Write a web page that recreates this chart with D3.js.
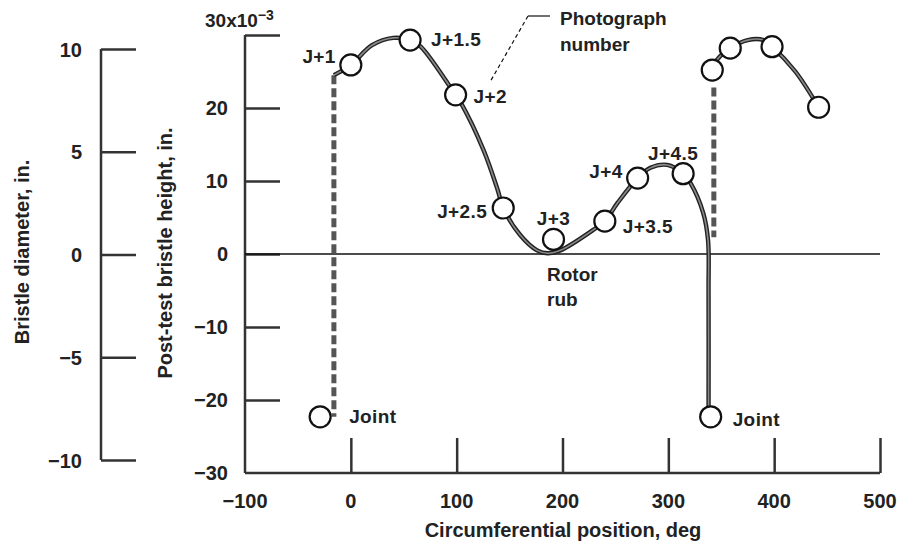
<!DOCTYPE html>
<html><head><meta charset="utf-8">
<script src="https://cdn.jsdelivr.net/npm/d3@7"></script>
<style>
body{margin:0;background:#fff;}
text{font-family:"Liberation Sans",Arial,sans-serif;fill:#222;font-weight:bold;}
</style></head>
<body><svg id="c" width="902" height="551"></svg>
<script>
// ---- data ----
const xTicks = [0, 100, 200, 300, 400, 500];
const xTickLabels = ["\u2212100", "0", "100", "200", "300", "400", "500"];
const xLabelVals = [-100, 0, 100, 200, 300, 400, 500];
const yTicks = [-30, -20, -10, 0, 10, 20, 30];
const yTickLabels = ["\u221230", "\u221220", "\u221210", "0", "10", "20", ""];
const diaTicks = [-10, -5, 0, 5, 10];
const diaTickLabels = ["\u221210", "\u22125", "0", "5", "10"];

// photographed stations: circumferential position (deg), post-test height (x10^-3 in.)
const stationX = [-29, 0, 56, 99, 144, 191.5, 240, 271, 314, 340, 341.5, 358.5, 398, 442];
const stationY = [-22.3, 25.9, 29.3, 21.8, 6.3, 2.0, 4.5, 10.4, 11.0, -22.3, 25.2, 28.2, 28.4, 20.1];
const stationLabels = ["Joint", "J+1", "J+1.5", "J+2", "J+2.5", "J+3", "J+3.5", "J+4", "J+4.5", "Joint", "", "", "", ""];

// traced height profile, first segment (deg, x10^-3 in.)
const profileAX = [-16, 0, 20, 40, 56, 66, 91.5, 99, 104, 125.5, 138.7, 144, 160, 176, 186, 198, 229, 240, 252, 271, 283, 299, 314, 321, 333, 337.5, 338, 338];
const profileAY = [24.5, 25.9, 28.6, 29.6, 29.3, 28.4, 23.4, 21.8, 20.7, 14.2, 8.8, 6.3, 2.6, 0.5, 0.1, 0.5, 3.3, 4.5, 7.0, 10.4, 11.8, 12.2, 11.0, 9.7, 5.6, 1.9, -5, -21];
// second segment after joint
const profileBX = [341.5, 346, 358.5, 375, 390, 398, 420, 442];
const profileBY = [25.2, 26.6, 28.2, 29.3, 29.3, 28.4, 25.0, 20.1];
// joint markers (dashed): position, top, bottom
const jointX = [-16, 343];
const jointTop = [24.5, 22.8];
const jointBottom = [-22.3, 2.3];

// ---- drawing ----
const svg = d3.select("#c");
const x = d3.scaleLinear().domain([-100, 500]).range([245, 880]);
const y = d3.scaleLinear().domain([-30, 30]).range([473, 35]);
const yd = d3.scaleLinear().domain([-10, 10]).range([460, 49]);
const axisCol = "#333";

// left (bristle diameter) axis
const gL = svg.append("g").attr("transform", "translate(101,0)");
gL.call(d3.axisRight(yd).tickValues(diaTicks).tickSize(35).tickFormat(""));
gL.selectAll("path.domain").attr("d", `M0,${yd(-10)}V${yd(10)}`);
gL.selectAll("line,path").attr("stroke", axisCol).attr("stroke-width", 2.5);
gL.selectAll(".tick").append("text").attr("x", -19).attr("dy", "0.35em")
  .attr("text-anchor", "end").style("font-size", "20px")
  .text(d => diaTickLabels[diaTicks.indexOf(d)]);

// main y axis
const gY = svg.append("g").attr("transform", "translate(245,0)");
gY.call(d3.axisRight(y).tickValues(yTicks.slice(1)).tickSize(35).tickFormat(""));
gY.selectAll("path.domain").attr("d", `M0,${y(-30)}V${y(30)}`);
gY.selectAll("line,path").attr("stroke", axisCol).attr("stroke-width", 2.5);
svg.append("g").selectAll("text").data(yTicks.filter(v => v < 30)).join("text")
  .attr("x", 228).attr("y", d => y(d)).attr("dy", "0.35em").attr("text-anchor", "end")
  .style("font-size", "20px").text(d => yTickLabels[yTicks.indexOf(d)]);
const t30 = svg.append("text").attr("x", 205).attr("y", 27).style("font-size", "19px");
t30.append("tspan").text("30x10");
t30.append("tspan").attr("dy", -7).style("font-size", "14px").text("\u22123");

// x axis
const gX = svg.append("g").attr("transform", `translate(0,${y(-30)})`);
gX.call(d3.axisTop(x).tickValues(xTicks).tickSize(35).tickFormat(""));
gX.selectAll("path.domain").attr("d", `M${x(-100)},0H${x(500)}`);
gX.selectAll("line,path").attr("stroke", axisCol).attr("stroke-width", 2.5);
svg.append("g").selectAll("text").data(xLabelVals).join("text")
  .attr("x", d => x(d)).attr("y", 508).attr("text-anchor", "middle")
  .style("font-size", "20px").text((d, i) => xTickLabels[i]);

// zero line
svg.append("line").attr("x1", x(-100)).attr("x2", x(500)).attr("y1", y(0)).attr("y2", y(0))
  .attr("stroke", "#111").attr("stroke-width", 1.5);

// axis titles
svg.append("text").attr("transform", `translate(29,252) rotate(-90)`).attr("text-anchor", "middle")
  .style("font-size", "20px").text("Bristle diameter, in.");
svg.append("text").attr("transform", `translate(172,253) rotate(-90)`).attr("text-anchor", "middle")
  .style("font-size", "20px").text("Post-test bristle height, in.");
svg.append("text").attr("x", 563).attr("y", 537).attr("text-anchor", "middle")
  .style("font-size", "20px").text("Circumferential position, deg");

// joints (dashed)
jointX.forEach((jx, i) => {
  svg.append("line").attr("x1", x(jx)).attr("x2", x(jx))
    .attr("y1", y(jointTop[i])).attr("y2", y(jointBottom[i]))
    .attr("stroke", "#555").attr("stroke-width", 5).attr("stroke-dasharray", "9,4");
});

// profile curves
const line = d3.line().x(d => x(d[0])).y(d => y(d[1])).curve(d3.curveCatmullRom.alpha(0.5));
[[profileAX, profileAY], [profileBX, profileBY]].forEach(([px, py]) => {
  const pts = px.map((v, i) => [v, py[i]]);
  svg.append("path").attr("d", line(pts)).attr("fill", "none").attr("stroke", "#222").attr("stroke-width", 4.4);
  svg.append("path").attr("d", line(pts)).attr("fill", "none").attr("stroke", "#8a8a8a").attr("stroke-width", 1.6);
});

// station circles
svg.append("g").selectAll("circle").data(stationX).join("circle")
  .attr("cx", d => x(d)).attr("cy", (d, i) => y(stationY[i])).attr("r", 10.5)
  .attr("fill", "#fff").attr("stroke", "#111").attr("stroke-width", 2.2);

// station labels
const labelPos = [
  {i: 0, dx: 29, dy: 6, a: "start"},
  {i: 1, dx: -15, dy: -2, a: "end"},
  {i: 2, dx: 21, dy: 6, a: "start"},
  {i: 3, dx: 18, dy: 8, a: "start"},
  {i: 4, dx: -16, dy: 10, a: "end"},
  {i: 5, dx: 0, dy: -14, a: "middle"},
  {i: 6, dx: 18, dy: 12, a: "start"},
  {i: 7, dx: -15, dy: 0, a: "end"},
  {i: 8, dx: -10, dy: -14, a: "middle"},
  {i: 9, dx: 22, dy: 9, a: "start"}
];
svg.append("g").selectAll("text").data(labelPos).join("text")
  .attr("x", d => x(stationX[d.i]) + d.dx).attr("y", d => y(stationY[d.i]) + d.dy)
  .attr("text-anchor", d => d.a).style("font-size", "19px").style("letter-spacing", "0.4px")
  .text(d => stationLabels[d.i]);

// annotations
svg.append("text").attr("x", 547).attr("y", 281).style("font-size", "19px").text("Rotor");
svg.append("text").attr("x", 547).attr("y", 306).style("font-size", "19px").text("rub");
svg.append("text").attr("x", 560).attr("y", 25).style("font-size", "19px").text("Photograph");
svg.append("text").attr("x", 560).attr("y", 51).style("font-size", "19px").text("number");
svg.append("line").attr("x1", 528).attr("y1", 16).attr("x2", 550).attr("y2", 16)
  .attr("stroke", "#111").attr("stroke-width", 1.2);
svg.append("line").attr("x1", 528).attr("y1", 16).attr("x2", 490).attr("y2", 82)
  .attr("stroke", "#111").attr("stroke-width", 1.2).attr("stroke-dasharray", "4,3");
</script></body></html>
